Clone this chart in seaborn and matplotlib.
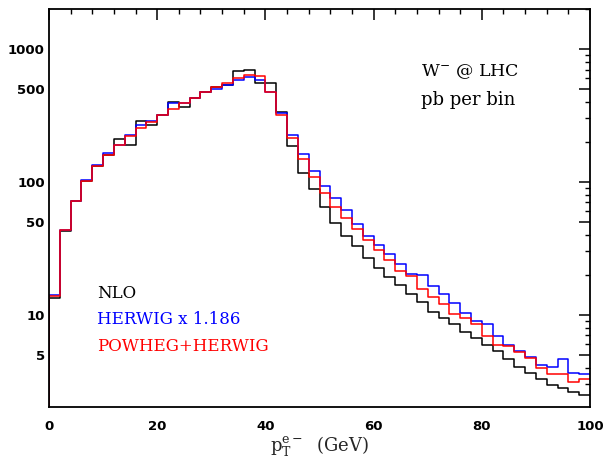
import numpy as np
import pandas as pd
import matplotlib
matplotlib.use("Agg")
import matplotlib.pyplot as plt
import seaborn as sns
from matplotlib.ticker import FixedLocator, FixedFormatter, LogLocator, MultipleLocator, NullFormatter

# bin edges (GeV), 2 GeV bins
bin_lo = list(range(0, 100, 2))
bin_hi_last = 100

nlo = [13.4, 43, 72, 101, 131, 159, 209, 189, 286, 266,
       317, 397, 364, 425, 472, 515, 535, 684, 695, 555,
       558, 337, 186, 117, 89, 64.8, 49.1, 39.2, 32.7, 26.9,
       22.6, 19.2, 16.6, 14.2, 12.4, 10.5, 9.5, 8.5, 7.4, 6.7,
       5.87, 5.3, 4.65, 4.05, 3.65, 3.27, 2.94, 2.82, 2.6, 2.5]

herwig = [14.0, 43.3, 72, 103.5, 134, 165, 189, 225, 270, 286,
          317, 390, 390, 425, 472, 497, 535, 584, 615, 588,
          472, 331, 226, 161, 120, 93.3, 75.0, 61.2, 48, 39,
          33.3, 28.8, 24.2, 20.4, 19.9, 16.4, 14.2, 12.2, 10.3, 8.9,
          8.55, 6.9, 5.9, 5.3, 4.8, 4.2, 4.05, 4.65, 3.65, 3.6]

powheg = [13.8, 43.3, 72, 101, 131, 159, 189, 222, 253, 281,
          317, 353, 390, 425, 475, 515, 552, 602, 637, 625,
          478, 320, 212, 148, 109, 82.6, 64.8, 53.6, 44.5, 36.3,
          30.6, 26.0, 21.3, 19.5, 15.7, 13.6, 12.1, 10.2, 9.5, 8.5,
          6.9, 5.9, 5.8, 5.25, 4.7, 3.95, 3.6, 3.55, 3.1, 3.3]

ytick_vals = [5, 10, 50, 100, 500, 1000]
ytick_labels = ["5", "10", "50", "100", "500", "1000"]
xtick_vals = [0, 20, 40, 60, 80, 100]

sns.set_style("white")
plt.rcParams["font.family"] = ["DejaVu Sans"]
plt.rcParams["mathtext.fontset"] = "dejavuserif"

fig = plt.figure(figsize=(6.05, 4.59), dpi=100)
ax = fig.add_axes([49 / 605, 1 - 407 / 459, 541 / 605, 398 / 459])

edges = bin_lo + [bin_hi_last]
series = [("NLO", nlo, "black"), ("HERWIG x 1.186", herwig, "#0000ff"),
          ("POWHEG+HERWIG", powheg, "#ff0000")]
for name, vals, col in series:
    df = pd.DataFrame({"x": edges, "y": list(vals) + [vals[-1]]})
    sns.lineplot(data=df, x="x", y="y", ax=ax, color=col, lw=1.1,
                 drawstyle="steps-post", estimator=None, sort=False)
    ax.vlines(edges[0], 1e-3, vals[0], color=col, lw=1.1)

ax.set_yscale("log")
ax.set_xlim(0, 100)
ax.set_ylim(2.02, 2000)

ax.yaxis.set_major_locator(FixedLocator(ytick_vals))
ax.yaxis.set_major_formatter(FixedFormatter(ytick_labels))
ax.yaxis.set_minor_locator(LogLocator(base=10, subs=[2, 3, 4, 6, 7, 8, 9]))
ax.yaxis.set_minor_formatter(NullFormatter())
ax.xaxis.set_major_locator(FixedLocator(xtick_vals))
ax.xaxis.set_minor_locator(MultipleLocator(4))

ax.tick_params(which="both", direction="in", top=True, right=True,
               colors="black")
ax.tick_params(which="major", length=8, width=1.1)
ax.tick_params(which="minor", length=3.5, width=1.0)
ax.tick_params(axis="x", which="major", pad=9)
ax.tick_params(axis="y", which="major", pad=3)
for lab in ax.get_xticklabels() + ax.get_yticklabels():
    lab.set_fontweight("bold")
    lab.set_fontsize(9.5)

for s in ax.spines.values():
    s.set_color("black")
    s.set_linewidth(1.3)

ax.set_ylabel("")
ax.set_xlabel(r"$\mathrm{p_T^{e-}}$  (GeV)", fontsize=13,
              family="DejaVu Serif", labelpad=1)

serif = "DejaVu Serif"
fs = 12
ax.text(0.0887, 0.286, "NLO", transform=ax.transAxes, color="black",
        fontsize=fs, family=serif, va="center", ha="left")
ax.text(0.0887, 0.219, "HERWIG x 1.186", transform=ax.transAxes, color="#0000ff",
        fontsize=fs, family=serif, va="center", ha="left")
ax.text(0.0887, 0.151, "POWHEG+HERWIG", transform=ax.transAxes, color="#ff0000",
        fontsize=fs, family=serif, va="center", ha="left")
ax.text(0.688, 0.842, r"W$^{-}$ @ LHC", transform=ax.transAxes, color="black",
        fontsize=12.5, family=serif, va="center", ha="left")
ax.text(0.688, 0.771, "pb per bin", transform=ax.transAxes, color="black",
        fontsize=13, family=serif, va="center", ha="left")

fig.savefig("out.png", dpi=100)
